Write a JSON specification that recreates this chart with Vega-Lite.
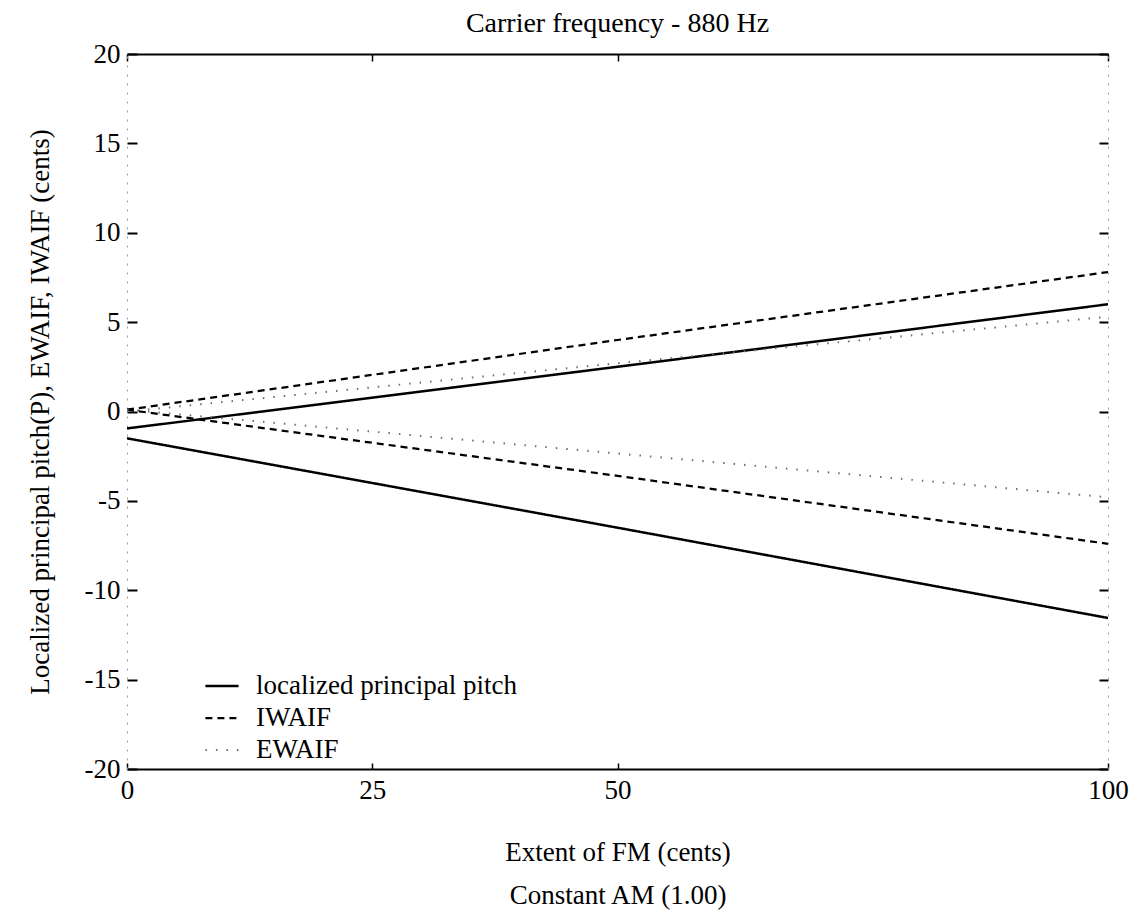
{
  "$schema": "https://vega.github.io/schema/vega-lite/v6.json",
  "autosize": {"type": "none"},
  "padding": {"left": 127, "top": 54, "right": 28, "bottom": 146},
  "width": 981,
  "height": 715,
  "background": "white",
  "title": {
    "text": "Carrier frequency - 880 Hz",
    "font": "Liberation Serif",
    "fontSize": 28,
    "fontWeight": "normal",
    "color": "black",
    "anchor": "middle",
    "offset": 2
  },
  "data": {
    "values": [
      {"series": "localized principal pitch", "branch": "upper", "fm": 0, "cents": -0.95},
      {"series": "localized principal pitch", "branch": "upper", "fm": 50, "cents": 2.5},
      {"series": "localized principal pitch", "branch": "upper", "fm": 100, "cents": 6.0},
      {"series": "localized principal pitch", "branch": "lower", "fm": 0, "cents": -1.5},
      {"series": "localized principal pitch", "branch": "lower", "fm": 50, "cents": -6.5},
      {"series": "localized principal pitch", "branch": "lower", "fm": 100, "cents": -11.55},
      {"series": "IWAIF", "branch": "upper", "fm": 0, "cents": 0.1},
      {"series": "IWAIF", "branch": "upper", "fm": 50, "cents": 4.0},
      {"series": "IWAIF", "branch": "upper", "fm": 100, "cents": 7.8},
      {"series": "IWAIF", "branch": "lower", "fm": 0, "cents": 0.1},
      {"series": "IWAIF", "branch": "lower", "fm": 50, "cents": -3.6},
      {"series": "IWAIF", "branch": "lower", "fm": 100, "cents": -7.4},
      {"series": "EWAIF", "branch": "upper", "fm": 0, "cents": 0.0},
      {"series": "EWAIF", "branch": "upper", "fm": 50, "cents": 2.7},
      {"series": "EWAIF", "branch": "upper", "fm": 100, "cents": 5.3},
      {"series": "EWAIF", "branch": "lower", "fm": 0, "cents": 0.1},
      {"series": "EWAIF", "branch": "lower", "fm": 50, "cents": -2.35},
      {"series": "EWAIF", "branch": "lower", "fm": 100, "cents": -4.8}
    ]
  },
  "layer": [
    {
      "mark": {"type": "line", "clip": true},
      "encoding": {
        "x": {
          "field": "fm", "type": "quantitative",
          "scale": {"domain": [0, 100], "nice": false, "zero": false},
          "axis": {
            "orient": "bottom",
            "values": [0, 25, 50, 100],
            "labelExpr": "'' + datum.value",
            "labelFlush": false,
            "grid": false,
            "domainColor": "black", "domainWidth": 2,
            "tickColor": "black", "tickWidth": 1.5, "tickSize": -6,
            "labelPadding": 14,
            "labelFont": "Liberation Serif", "labelFontSize": 27, "labelColor": "black",
            "title": ["Extent of FM (cents)", "Constant AM (1.00)"],
            "titleFont": "Liberation Serif", "titleFontSize": 27, "titleFontWeight": "normal", "titleColor": "black",
            "titleLineHeight": 43,
            "titleBaseline": "top",
            "titleX": 490.5,
            "titleY": 70
          }
        },
        "y": {
          "field": "cents", "type": "quantitative",
          "scale": {"domain": [-20, 20], "nice": false, "zero": false},
          "axis": {
            "orient": "left",
            "values": [-20, -15, -10, -5, 0, 5, 10, 15, 20],
            "labelExpr": "'' + datum.value",
            "grid": false,
            "domainColor": "#9a9a9a", "domainWidth": 1, "domainDash": [2, 7],
            "tickColor": "black", "tickWidth": 2, "tickSize": -10,
            "labelPadding": 17,
            "labelFont": "Liberation Serif", "labelFontSize": 27, "labelColor": "black",
            "title": "Localized principal pitch(P), EWAIF, IWAIF (cents)",
            "titleFont": "Liberation Serif", "titleFontSize": 27, "titleFontWeight": "normal", "titleColor": "black",
            "titleAngle": 270,
            "titleBaseline": "middle",
            "titleAlign": "center",
            "titleX": -87,
            "titleY": 357.5
          }
        },
        "detail": {"field": "branch"},
        "color": {
          "field": "series", "type": "nominal",
          "scale": {"domain": ["localized principal pitch", "IWAIF", "EWAIF"], "range": ["black", "black", "#6e6e6e"]},
          "legend": {"title": null}
        },
        "strokeDash": {
          "field": "series", "type": "nominal",
          "scale": {"domain": ["localized principal pitch", "IWAIF", "EWAIF"], "range": [[1, 0], [7, 5], [1.5, 9]]},
          "legend": {"title": null}
        },
        "strokeWidth": {
          "field": "series", "type": "nominal",
          "scale": {"domain": ["localized principal pitch", "IWAIF", "EWAIF"], "range": [2.5, 2, 1.3]},
          "legend": null
        }
      }
    },
    {
      "mark": {"type": "line", "opacity": 0},
      "encoding": {
        "x": {
          "field": "fm", "type": "quantitative",
          "axis": {
            "orient": "top",
            "values": [0, 25, 50, 100],
            "labels": false,
            "grid": false,
            "title": null,
            "domainColor": "black", "domainWidth": 2,
            "tickColor": "black", "tickWidth": 1.5, "tickSize": -7
          }
        },
        "y": {
          "field": "cents", "type": "quantitative",
          "axis": {
            "orient": "right",
            "values": [-20, -15, -10, -5, 0, 5, 10, 15, 20],
            "labels": false,
            "grid": false,
            "title": null,
            "domainColor": "#9a9a9a", "domainWidth": 1, "domainDash": [2, 7],
            "tickColor": "black", "tickWidth": 2, "tickSize": -9
          }
        },
        "detail": {"field": "series"}
      }
    }
  ],
  "resolve": {"axis": {"x": "independent", "y": "independent"}},
  "config": {
    "font": "Liberation Serif",
    "view": {"stroke": null},
    "title": {"font": "Liberation Serif", "fontWeight": "normal"},
    "legend": {
      "orient": "none",
      "legendX": 77,
      "legendY": 614,
      "padding": 0,
      "labelFont": "Liberation Serif",
      "labelFontSize": 27,
      "labelColor": "black",
      "labelOffset": 16,
      "labelLimit": 500,
      "symbolType": "stroke",
      "symbolSize": 1100,
      "symbolStrokeWidth": 2,
      "rowPadding": 1
    }
  }
}
